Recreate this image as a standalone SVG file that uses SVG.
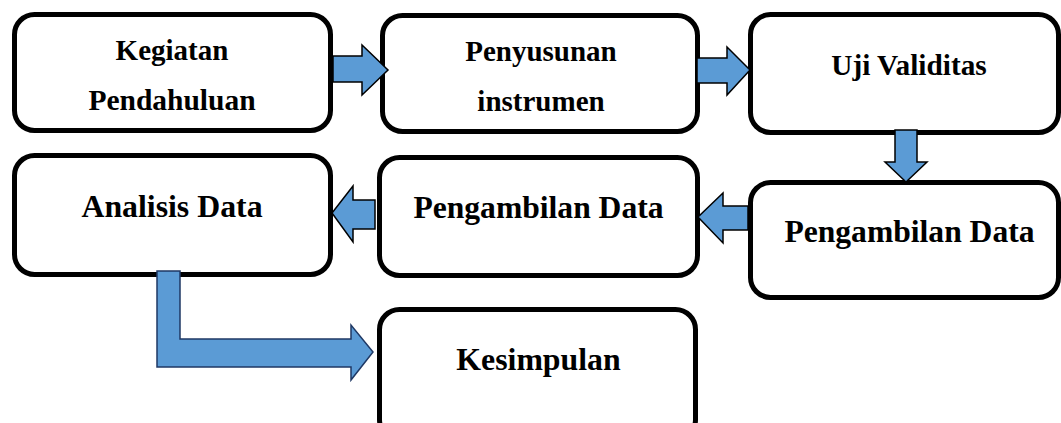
<svg xmlns="http://www.w3.org/2000/svg" width="1061" height="423" viewBox="0 0 1061 423">
<style>
.box{fill:#fff;stroke:#000;stroke-width:5}
.t{font-family:"Liberation Serif","Times New Roman",serif;font-weight:bold;fill:#000;text-anchor:middle}
.arr{fill:#5B9BD5;stroke:#000;stroke-width:1.5;stroke-linejoin:miter}
.arr2{fill:#5B9BD5;stroke:#1F3864;stroke-width:1.5}
</style>
<rect width="1061" height="423" fill="#fff"/>
<g id="n1"><rect class="box" x="14.5" y="14.5" width="316" height="116" rx="20"/>
<text class="t" x="172" y="60" font-size="29">Kegiatan</text>
<text class="t" x="172" y="110" font-size="29.5">Pendahuluan</text></g>
<g id="n2"><rect class="box" x="382.5" y="15.5" width="315" height="116" rx="20"/>
<text class="t" x="541" y="61" font-size="29">Penyusunan</text>
<text class="t" x="541" y="111" font-size="29">instrumen</text></g>
<g id="n3"><rect class="box" x="750.5" y="14.5" width="308" height="118" rx="20"/>
<text class="t" x="909" y="75" font-size="29.3">Uji Validitas</text></g>
<g id="n4"><rect class="box" x="14.5" y="155.5" width="316" height="119" rx="20"/>
<text class="t" x="172" y="217" font-size="31.8">Analisis Data</text></g>
<g id="n5"><rect class="box" x="379.5" y="157.5" width="318" height="118" rx="20"/>
<text class="t" x="538.5" y="218" font-size="31.6">Pengambilan Data</text></g>
<g id="n6"><rect class="box" x="750.5" y="182.5" width="308" height="115" rx="20"/>
<text class="t" x="909.5" y="242" font-size="31.6">Pengambilan Data</text></g>
<g id="n7"><rect class="box" x="379.5" y="309.5" width="316" height="130" rx="20"/>
<text class="t" x="538.5" y="370" font-size="31.8">Kesimpulan</text></g>
<g id="connectors">
<path class="arr" d="M333,56 L362,56 L362,45 L388,70 L362,95 L362,82 L333,82 Z"/>
<path class="arr" d="M697,58 L727,58 L727,47 L750,70 L727,95 L727,83 L697,83 Z"/>
<path class="arr" d="M895,130 L917,130 L917,162 L927,162 L906,182 L885,162 L895,162 Z"/>
<path class="arr" d="M748,206 L723,206 L723,193 L698,217 L723,243 L723,230 L748,230 Z"/>
<path class="arr" d="M375,200 L353,200 L353,186 L332,213 L353,242 L353,229 L375,229 Z"/>
<path class="arr2" d="M157,271 L180,271 L180,339 L351,339 L351,325 L373,352 L351,380 L351,367 L157,367 Z"/>
</g>
</svg>
